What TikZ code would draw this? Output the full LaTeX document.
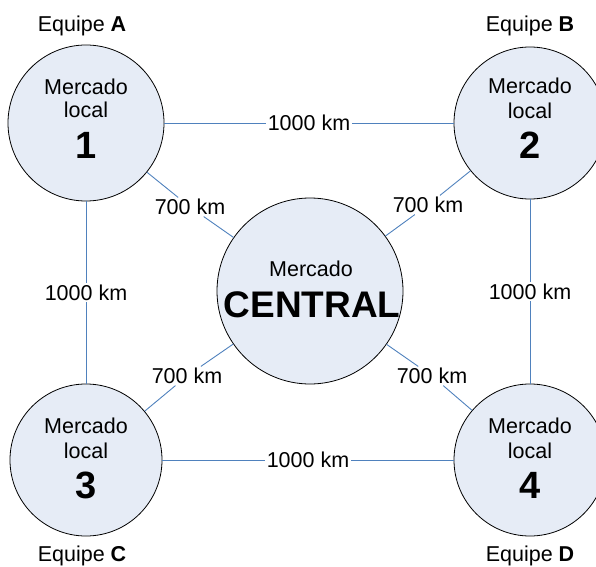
\documentclass[tikz,border=0pt]{standalone}
\usepackage{fontspec}
\setmainfont{Liberation Sans}
\definecolor{discfill}{RGB}{230,236,246}
\definecolor{linkblue}{RGB}{79,129,189}
\begin{document}
\begin{tikzpicture}[x=1pt,y=1pt,
  market/.style={circle,draw=black,line width=0.8pt,fill=discfill,inner sep=0pt},
  link/.style={draw=linkblue,line width=0.9pt},
  dist/.style={fill=white,inner xsep=1.5pt,inner ysep=1.5pt,font=\fontsize{21.5}{25}\selectfont},
  small/.style={anchor=base,inner sep=0pt,font=\fontsize{21.5}{25}\selectfont},
  big/.style={anchor=base,inner sep=0pt,font=\fontsize{38}{44}\selectfont\bfseries}]
\clip (0,0) rectangle (596,566);

% markets
\node[market,minimum size=156pt] (m1) at (86,443) {};
\node[market,minimum size=152pt] (m2) at (530,443) {};
\node[market,minimum size=152pt] (m3) at (86,106) {};
\node[market,minimum size=152pt] (m4) at (530,106) {};
\node[market,minimum size=186pt] (mc) at (310,275) {};

% distances between local markets
\draw[link] (m1) -- (m2) node[dist,midway] (d12) {1000 km};
\draw[link] (m3) -- (m4) node[dist,midway] (d34) {1000 km};
\draw[link] (m1) -- (m3) node[dist,midway] (d13) {1000 km};
\draw[link] (m2) -- (m4) node[dist,midway] (d24) {1000 km};

% distances to the central market
\node[dist] (d1c) at (190,359) {700 km};
\node[dist] (d2c) at (428,361) {700 km};
\node[dist] (d3c) at (187,190) {700 km};
\node[dist] (d4c) at (432,190) {700 km};
\draw[link] (m1) -- (d1c) -- (mc);
\draw[link] (m2) -- (d2c) -- (mc);
\draw[link] (m3) -- (d3c) -- (mc);
\draw[link] (m4) -- (d4c) -- (mc);

% market captions
\node[small] (t1a) at (86,471) {Mercado};
\node[small] (t1b) at (86,448) {local};
\node[big]   (t1c) at (86,408) {1};
\node[small] (t2a) at (530,472) {Mercado};
\node[small] (t2b) at (530,447) {local};
\node[big]   (t2c) at (530,407) {2};
\node[small] (t3a) at (86,133) {Mercado};
\node[small] (t3b) at (86,108) {local};
\node[big]   (t3c) at (86,68) {3};
\node[small] (t4a) at (530,133) {Mercado};
\node[small] (t4b) at (530,108) {local};
\node[big]   (t4c) at (530,68) {4};
\node[small] (tca) at (311,290) {Mercado};
\node[anchor=base,inner sep=0pt,font=\fontsize{37}{43}\selectfont\bfseries] (tcb) at (312,249) {CENTRAL};

% team labels
\node[small] (ea) at (82,534) {Equipe \textbf{A}};
\node[small] (eb) at (530,534) {Equipe \textbf{B}};
\node[small] (ec) at (82,5) {Equipe \textbf{C}};
\node[small] (ed) at (530,5) {Equipe \textbf{D}};
\end{tikzpicture}
\end{document}
